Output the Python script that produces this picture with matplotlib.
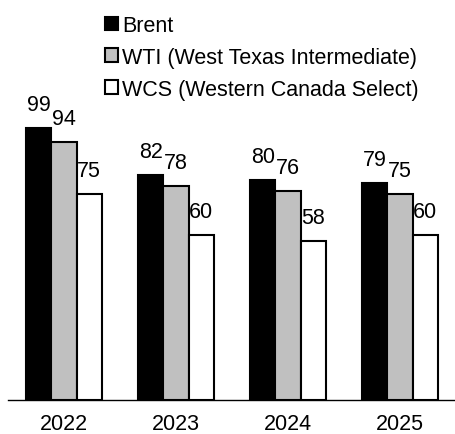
import matplotlib
matplotlib.use("Agg")
import matplotlib.pyplot as plt
import numpy as np
from matplotlib.patches import Patch

plt.rcParams['font.family'] = ['Liberation Sans', 'DejaVu Sans']

years = ["2022", "2023", "2024", "2025"]
series_names = ["Brent", "WTI (West Texas Intermediate)", "WCS (Western Canada Select)"]
brent = [99, 82, 80, 79]
wti = [94, 78, 76, 75]
wcs = [75, 60, 58, 60]
colors = ["#000000", "#c0c0c0", "#ffffff"]

FS = 15.5
W, H = 456, 435
fig = plt.figure(figsize=(W / 100, H / 100), dpi=100)
ax = fig.add_axes([8 / W, 34 / H, 448 / W, 330 / H])

x = np.arange(len(years))
bw = 0.226
handles = []
for i, (vals, col, name) in enumerate(zip([brent, wti, wcs], colors, series_names)):
    pos = x + (i - 1) * bw
    ax.bar(pos, vals, width=bw, color=col, edgecolor="black", linewidth=1.5,
           label=name, zorder=2)
    for p, v in zip(pos, vals):
        ax.annotate(str(v), (p, v), xytext=(0, 9), textcoords="offset points",
                    ha="center", va="bottom", fontsize=FS)
    handles.append(Patch(facecolor=col, edgecolor="black", linewidth=1.5, label=name))

ax.set_xlim(-0.5, 3.5)
ax.set_ylim(0, 120)
ax.set_xticks(x)
ax.set_xticklabels(years, fontsize=FS)
ax.tick_params(axis="x", length=0, pad=9.5)
ax.set_yticks([])
for s in ["left", "right", "top"]:
    ax.spines[s].set_visible(False)
ax.spines["bottom"].set_linewidth(1.0)
ax.spines["bottom"].set_zorder(3)

fig.legend(handles=handles, loc="upper left",
           bbox_to_anchor=(105 / W, 1 - 16 / H), frameon=False, fontsize=FS,
           handlelength=0.6, handleheight=0.6, handletextpad=0.2,
           labelspacing=0.5, borderpad=0, borderaxespad=0)

fig.savefig("out.png", dpi=100)
